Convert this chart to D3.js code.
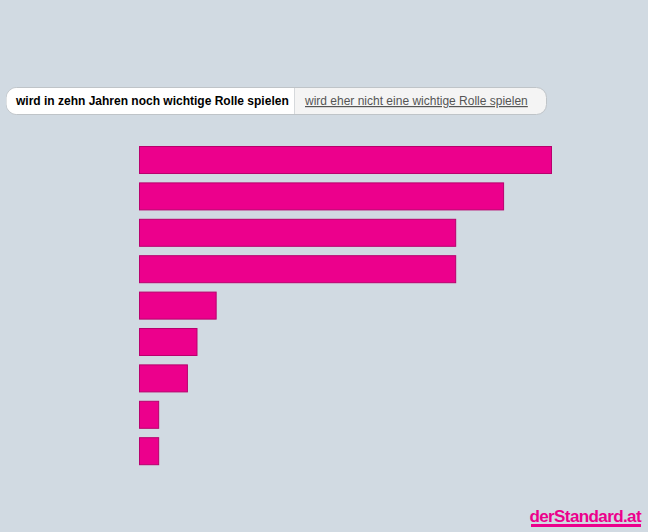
<!DOCTYPE html>
<html>
<head>
<meta charset="utf-8">
<script src="https://cdn.jsdelivr.net/npm/d3@7"></script>
<style>
  body { margin: 0; background: #d1dae2; }
  svg { display: block; font-family: "Liberation Sans", Arial, sans-serif; }
</style>
</head>
<body>
<svg id="chart" width="648" height="532"></svg>
<script>
// data
const categories = ["1", "2", "3", "4", "5", "6", "7", "8", "9"];
const values = [43, 38, 33, 33, 8, 6, 5, 2, 2];
const tabs = ["wird in zehn Jahren noch wichtige Rolle spielen", "wird eher nicht eine wichtige Rolle spielen"];

const svg = d3.select("#chart");

/* tabs */
const tabG = svg.append("g");
tabG.append("rect")
  .attr("x", 6.5).attr("y", 87.5).attr("width", 540).attr("height", 27)
  .attr("rx", 10).attr("fill", "#f4f4f4").attr("stroke", "#bfc4c8");
tabG.append("path")
  .attr("d", "M294,88 H16.5 A10,10 0 0 0 6.5,98 V104 A10,10 0 0 0 16.5,114 H294 Z")
  .attr("fill", "#fff");
tabG.append("line")
  .attr("x1", 294.5).attr("x2", 294.5).attr("y1", 88).attr("y2", 114)
  .attr("stroke", "#d6d9dc");
tabG.append("text")
  .attr("x", 16).attr("y", 105).attr("font-size", 12).attr("font-weight", "bold")
  .attr("fill", "#000").text(tabs[0]);
tabG.append("text")
  .attr("x", 305).attr("y", 105).attr("font-size", 12)
  .attr("fill", "#555").attr("text-decoration", "underline").text(tabs[1]);

/* bars */
const x = d3.scaleLinear().domain([0, 43]).range([139, 551]);
const y = d3.scaleBand().domain(categories).range([146, 464.2]).paddingInner(0.258).paddingOuter(0);

svg.append("g")
  .selectAll("rect")
  .data(values)
  .join("rect")
  .attr("x", x(0) + 0.5)
  .attr("y", (d, i) => y(categories[i]) + 0.5)
  .attr("width", (d) => x(d) - x(0))
  .attr("height", y.bandwidth())
  .attr("fill", "#ec008c")
  .attr("stroke", "#b8006d");

/* logo */
svg.append("text")
  .attr("x", 641).attr("y", 522).attr("text-anchor", "end")
  .attr("font-size", 17).attr("font-weight", "bold").attr("letter-spacing", -0.6)
  .attr("fill", "#ec008c").text("derStandard.at");
svg.append("rect")
  .attr("x", 531).attr("y", 524).attr("width", 110).attr("height", 3)
  .attr("fill", "#ec008c");
</script>
</body>
</html>
